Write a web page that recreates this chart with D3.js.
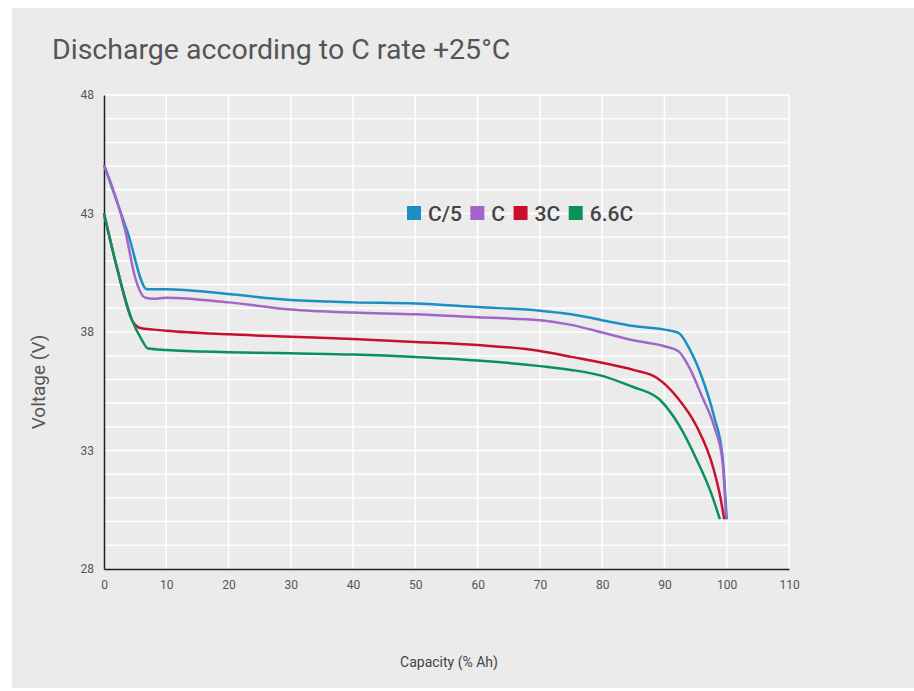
<!DOCTYPE html>
<html>
<head>
<meta charset="utf-8">
<script src="https://cdn.jsdelivr.net/npm/d3@7"></script>
<style>
  body { margin: 0; background: #fff; font-family: Roboto, sans-serif; }
</style>
</head>
<body>
<div id="chart"></div>
<script>
// capacity (% Ah) and voltage (V) for each discharge rate
const capC5 = [0, 3.8, 6.9, 10, 20, 30, 40, 50, 60, 70, 75, 80, 85, 90, 92.3, 94, 96, 98, 99.3, 100];
const voltC5 = [45.05, 42.2, 39.8, 39.8, 39.6, 39.35, 39.25, 39.2, 39.05, 38.9, 38.75, 38.5, 38.25, 38.1, 37.95, 37.3, 36.1, 34.4, 32.8, 30.1];

const capC = [0, 3.4, 5, 6.6, 8, 10, 20, 30, 40, 50, 60, 70, 75, 80, 85, 90, 92.2, 94, 96, 98, 99.3, 99.9];
const voltC = [45.05, 42.3, 40.3, 39.45, 39.4, 39.45, 39.25, 38.95, 38.82, 38.75, 38.62, 38.5, 38.3, 37.98, 37.65, 37.4, 37.2, 36.5, 35.3, 34.0, 32.6, 30.1];

const cap3C = [0, 2, 4.7, 5.8, 8, 10, 20, 30, 40, 50, 60, 70, 75, 80, 85, 88.8, 92, 95.2, 97.8, 99, 99.6];
const volt3C = [43.0, 40.8, 38.4, 38.17, 38.1, 38.05, 37.9, 37.8, 37.7, 37.58, 37.45, 37.2, 36.95, 36.7, 36.4, 36.06, 35.26, 34.0, 32.3, 31.0, 30.1];

const cap66C = [0, 2, 4.5, 6, 7.1, 10, 20, 30, 40, 50, 60, 70, 75, 80, 82.5, 85, 89.3, 92.5, 95.2, 97.5, 98.9];
const volt66C = [43.0, 40.8, 38.5, 37.7, 37.3, 37.24, 37.15, 37.1, 37.05, 36.95, 36.8, 36.56, 36.4, 36.15, 35.93, 35.68, 35.13, 34.0, 32.6, 31.2, 30.1];

const seriesNames = ["C/5", "C", "3C", "6.6C"];
const seriesColors = ["#1b8fc4", "#a366c8", "#c8102e", "#0a915a"];
const xTicks = [0, 10, 20, 30, 40, 50, 60, 70, 80, 90, 100, 110];
const yTicks = [28, 33, 38, 43, 48];

const series = [
  capC5.map((c, i) => ({ x: c, y: voltC5[i] })),
  capC.map((c, i) => ({ x: c, y: voltC[i] })),
  cap3C.map((c, i) => ({ x: c, y: volt3C[i] })),
  cap66C.map((c, i) => ({ x: c, y: volt66C[i] }))
];

const W = 914, H = 691;
const margin = { left: 104, top: 95, right: 125, bottom: 122 };
const width = W - margin.left - margin.right;
const height = H - margin.top - margin.bottom;

const svg = d3.select("#chart").append("svg")
  .attr("width", W)
  .attr("height", H);

// gray panel
svg.append("rect")
  .attr("x", 12).attr("y", 8)
  .attr("width", W - 12).attr("height", H - 11)
  .attr("fill", "#ebebeb");

svg.append("text")
  .attr("x", 52).attr("y", 59)
  .attr("fill", "#555")
  .style("font-size", "28.5px")
  .text("Discharge according to C rate +25°C");

const g = svg.append("g")
  .attr("transform", `translate(${margin.left},${margin.top})`);

// === Scales ===
const x = d3.scaleLinear().domain([0, 110]).range([0, width]);
const y = d3.scaleLinear().domain([28, 48]).range([height, 0]);

// === Grid ===
g.append("g")
  .selectAll("line")
  .data(d3.range(29, 49))
  .join("line")
  .attr("x1", 0).attr("x2", width)
  .attr("y1", d => y(d)).attr("y2", d => y(d))
  .attr("stroke", "#fff").attr("stroke-width", 1.5);

g.append("g")
  .selectAll("line")
  .data(xTicks.slice(1))
  .join("line")
  .attr("x1", d => x(d)).attr("x2", d => x(d))
  .attr("y1", 0).attr("y2", height)
  .attr("stroke", "#fff").attr("stroke-width", 1.5);

// === Axes ===
const xAxis = g.append("g")
  .attr("transform", `translate(0,${height})`)
  .call(d3.axisBottom(x).tickValues(xTicks).tickSize(0).tickPadding(11));
xAxis.select(".domain").attr("stroke", "#222").attr("stroke-width", 1.5);

const yAxis = g.append("g")
  .call(d3.axisLeft(y).tickValues(yTicks).tickSize(0).tickPadding(10));
yAxis.select(".domain").attr("stroke", "#222").attr("stroke-width", 1.5);

g.selectAll(".tick text")
  .attr("fill", "#555")
  .style("font-family", "Roboto, sans-serif")
  .style("font-size", "12px");

// === Lines ===
const line = d3.line()
  .x(d => x(d.x))
  .y(d => y(d.y))
  .curve(d3.curveMonotoneX);

g.selectAll(".series")
  .data(series)
  .join("path")
  .attr("class", "series")
  .attr("d", line)
  .attr("fill", "none")
  .attr("stroke", (d, i) => seriesColors[i])
  .attr("stroke-width", 2.5)
  .attr("stroke-linejoin", "round");

// === Labels ===
svg.append("text")
  .attr("x", 449).attr("y", 667)
  .attr("text-anchor", "middle")
  .attr("fill", "#444")
  .style("font-size", "14px")
  .text("Capacity (% Ah)");

svg.append("text")
  .attr("transform", "rotate(-90)")
  .attr("x", -382).attr("y", 45)
  .attr("text-anchor", "middle")
  .attr("fill", "#555")
  .style("font-size", "19px")
  .text("Voltage (V)");

// === Legend ===
const legend = svg.append("g").attr("transform", "translate(407,206)");
let lx = 0;
seriesNames.forEach((name, i) => {
  legend.append("rect")
    .attr("x", lx).attr("y", 0)
    .attr("width", 14).attr("height", 14)
    .attr("fill", seriesColors[i]);
  const t = legend.append("text")
    .attr("x", lx + 21).attr("y", 14.5)
    .attr("fill", "#444")
    .style("font-size", "21px")
    .style("font-weight", "500")
    .text(name);
  lx += 21 + t.node().getComputedTextLength() + 8.5;
});
</script>
</body>
</html>
